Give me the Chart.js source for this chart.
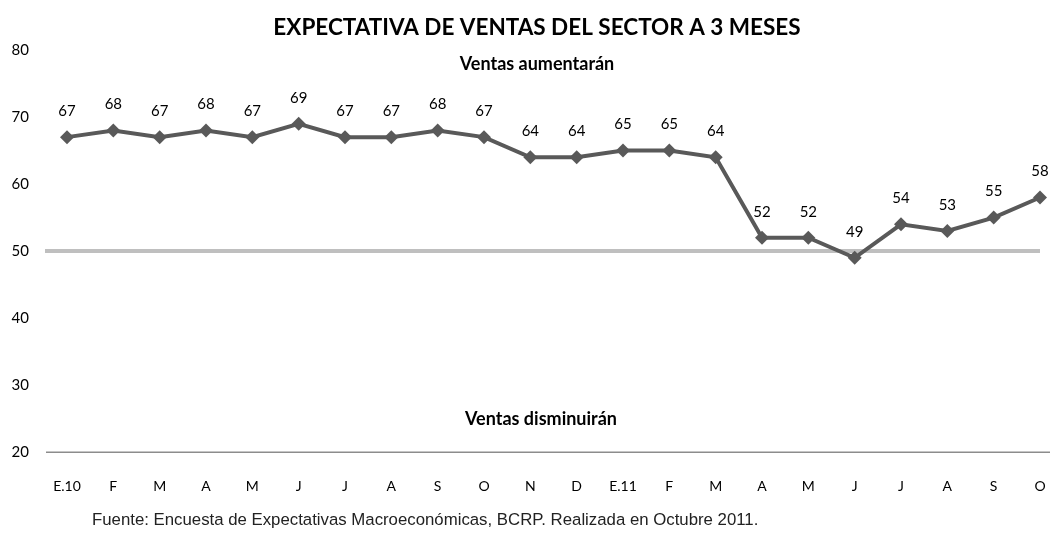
<!DOCTYPE html>
<html>
<head>
<meta charset="utf-8">
<script src="https://cdn.jsdelivr.net/npm/chart.js@4/dist/chart.umd.min.js"></script>
<style>
  html, body { margin: 0; padding: 0; background: #fff; overflow: hidden; }
  #wrap { position: relative; width: 1050px; height: 533px; }
</style>
</head>
<body>
<div id="wrap"><canvas id="chart" width="1050" height="533"></canvas></div>
<script>
// Data
const months = ['E.10','F','M','A','M','J','J','A','S','O','N','D','E.11','F','M','A','M','J','J','A','S','O'];
const ventas = [67, 68, 67, 68, 67, 69, 67, 67, 68, 67, 64, 64, 65, 65, 64, 52, 52, 49, 54, 53, 55, 58];
const yTicks = [20, 30, 40, 50, 60, 70, 80];
const neutral = 50;

const titleText = 'EXPECTATIVA DE VENTAS DEL SECTOR A 3 MESES';
const upText = 'Ventas aumentarán';
const downText = 'Ventas disminuirán';
const sourceText = 'Fuente: Encuesta de Expectativas Macroeconómicas, BCRP. Realizada en Octubre 2011.';

const FONT = 'Lato, "Open Sans", sans-serif';

// draws the 50 line, x axis line, point labels and the text boxes
const extras = {
  id: 'extras',
  beforeDatasetsDraw(c) {
    const { ctx, chartArea, scales } = c;
    const x = scales.x, y = scales.y;
    ctx.save();
    // neutral line
    const y50 = y.getPixelForValue(neutral);
    ctx.strokeStyle = '#bfbfbf';
    ctx.lineWidth = 4;
    ctx.beginPath();
    ctx.moveTo(chartArea.left - 22, y50);
    ctx.lineTo(x.getPixelForValue(months.length - 1), y50);
    ctx.stroke();
    // x axis line
    const yb = y.getPixelForValue(yTicks[0]);
    ctx.strokeStyle = '#8c8c8c';
    ctx.lineWidth = 1.5;
    ctx.beginPath();
    ctx.moveTo(chartArea.left - 21, yb);
    ctx.lineTo(c.width, yb);
    ctx.stroke();
    ctx.restore();
  },
  afterDatasetsDraw(c) {
    const { ctx, scales } = c;
    const x = scales.x, y = scales.y;
    ctx.save();
    ctx.fillStyle = '#000';
    ctx.textAlign = 'center';
    ctx.textBaseline = 'middle';
    ctx.font = '15px ' + FONT;
    ventas.forEach((v, i) => {
      ctx.fillText(String(v), x.getPixelForValue(i), y.getPixelForValue(v) - 26);
    });
    ctx.font = 'bold 22.5px ' + FONT;
    ctx.fillText(titleText, 537, 28);
    ctx.font = 'bold 18px ' + FONT;
    ctx.fillText(upText, 537, 64);
    ctx.fillText(downText, 541, 419);
    ctx.font = '16.8px "Liberation Sans", Arial, sans-serif';
    ctx.textAlign = 'left';
    ctx.fillStyle = '#222';
    ctx.fillText(sourceText, 92, 520);
    ctx.restore();
  }
};

const chart = new Chart(document.getElementById('chart'), {
  type: 'line',
  data: {
    labels: months,
    datasets: [{
      data: ventas,
      borderColor: '#595959',
      backgroundColor: '#595959',
      borderWidth: 4,
      pointStyle: 'rectRot',
      pointRadius: 7,
      pointHoverRadius: 7,
      pointBorderWidth: 0,
      tension: 0
    }]
  },
  options: {
    responsive: false,
    animation: false,
    events: [],
    layout: { padding: { left: 0, right: 10, top: 50, bottom: 12 } },
    plugins: { legend: { display: false }, tooltip: { enabled: false }, title: { display: false } },
    scales: {
      x: {
        offset: false,
        afterFit: s => { s.paddingLeft = 0; s.paddingRight = 0; },
        grid: { display: false, drawTicks: false },
        border: { display: false },
        ticks: { color: '#000', font: { family: FONT, size: 14 }, padding: 26, maxRotation: 0, autoSkip: false }
      },
      y: {
        min: 20, max: 80,
        afterBuildTicks: s => { s.ticks = yTicks.map(v => ({ value: v })); },
        afterFit: s => { s.width = 67; },
        grid: { display: false, drawTicks: false },
        border: { display: false },
        ticks: { color: '#000', font: { family: FONT, size: 15 }, padding: 38 }
      }
    }
  },
  plugins: [extras]
});
</script>
</body>
</html>
